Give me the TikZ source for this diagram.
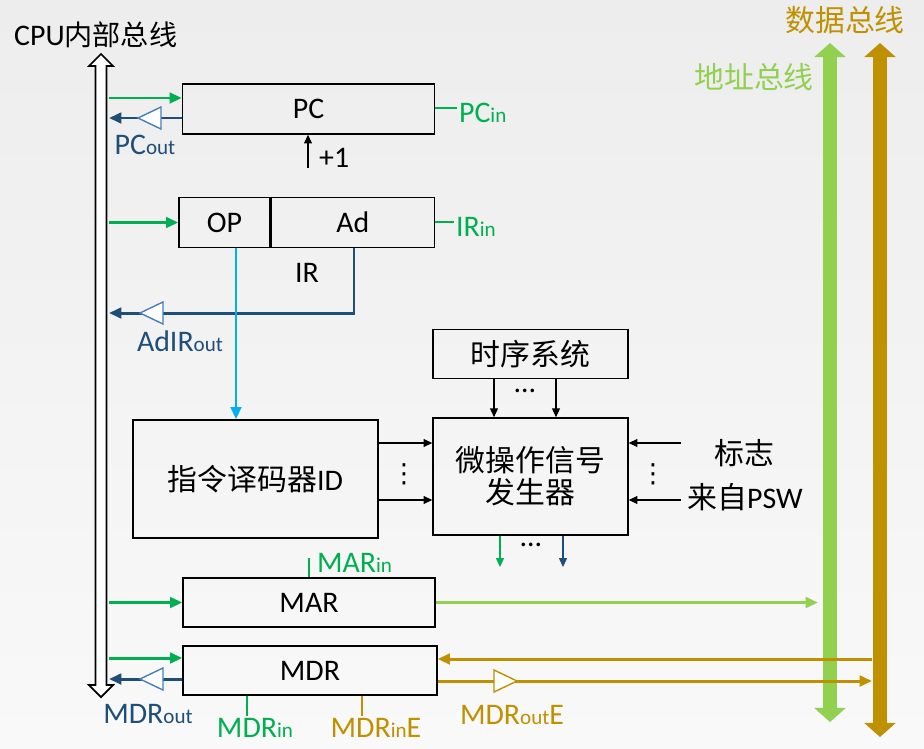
\documentclass[tikz,border=0pt]{standalone}
\usepackage{fontspec}
\setmainfont{Carlito}
\newfontfamily\cjk{Noto Sans CJK SC}
\newfontfamily\symf{DejaVu Sans}
\usetikzlibrary{positioning,arrows.meta,shapes.geometric}
\definecolor{sigin}{HTML}{00B050}
\definecolor{sigout}{HTML}{1F4E79}
\definecolor{bufline}{HTML}{4A7EBB}
\definecolor{addrbus}{HTML}{92D050}
\definecolor{databus}{HTML}{BF9000}
\definecolor{opline}{HTML}{00B0F0}
\definecolor{bgtop}{HTML}{EDEDED}
\definecolor{bgbot}{HTML}{F9F9F9}
\newcommand{\lbl}{\fontsize{17}{20}\selectfont}
\newcommand{\cjklbl}{\cjk\fontsize{17}{18}\selectfont}
\newcommand{\sfx}[1]{{\fontsize{12}{12}\selectfont #1}}
% hollow buffer triangle: tip x, y, colour, direction (+1 left, -1 right)
\newcommand{\buffer}[4]{\draw[buf, draw=#3] (#1,#2) -- ++(#4*23,-11) -- ++(0,22) -- cycle;}
\tikzset{
  reg/.style={draw, line width=0.8pt, inner sep=0pt, font=\lbl},
  sigarrow/.style={-{Triangle[length=7pt,width=6pt]}, line width=1.7pt},
  gin/.style={sigarrow, sigin},
  gout/.style={sigarrow, sigout},
  ctl/.style={line width=0.6pt},
  thinarrow/.style={-{Triangle[length=5pt,width=4.5pt]}, line width=0.6pt},
  buf/.style={fill=white, line width=0.8pt},
  busarrow/.style={line width=8.5pt, {Triangle[length=8pt,width=17.5pt]}-{Triangle[length=8pt,width=17.5pt]}},
  siglbl/.style={font=\lbl, inner sep=1pt},
  vdot/.style={font=\symf\fontsize{15}{15}\selectfont, inner sep=0pt},
}
\begin{document}
\begin{tikzpicture}[x=0.02cm, y=-0.02cm]
\useasboundingbox (0,0) rectangle (924,748);
\fill[top color=bgtop, bottom color=bgbot] (0,0) rectangle (924,748);

%Buses
\filldraw[fill=white, draw=black, line width=1pt] (101,54) -- (113,66) -- (106.5,66) -- (106.5,685) -- (113,685) -- (101,697) -- (89,685) -- (95.5,685) -- (95.5,66) -- (89,66) -- cycle;
\coordinate (cpubus) at (109,0);
\node[anchor=west, font=\lbl] (cpulbl) at (8,35) {CPU{\cjk\fontsize{16}{18}\selectfont 内部总线}};
\draw[busarrow, addrbus] (830,722) -- (830,43);
\draw[busarrow, databus] (880,737) -- (880,43);
\coordinate (abus) at (818,0);
\coordinate (dbus) at (872,0);
\node[font=\cjklbl, addrbus] (alabel) at (754,77) {地址总线};
\node[font=\cjklbl, databus] (dlabel) at (845,20) {数据总线};

%Nodes
\node[reg, minimum width=5.04cm, minimum height=1cm] (pc) at (308.5,109) {PC};
\node[reg, minimum width=1.82cm, minimum height=1cm] (op) at (224.5,222.5) {OP};
\node[reg, minimum width=3.26cm, minimum height=1cm, right=0pt of op] (ad) {Ad};
\node[font=\lbl] (ir) at (307,273) {IR};
\node[reg, font=\cjklbl, minimum width=4.9cm, minimum height=2.36cm] (id) at (255.5,479) {指令译码器{\rmfamily\fontsize{17}{18}\selectfont ID}};
\node[reg, font=\cjklbl, minimum width=3.9cm, minimum height=0.98cm] (seq) at (530.5,354) {时序系统};
\node[reg, font=\cjklbl, align=center, minimum width=3.9cm, minimum height=2.34cm, below=0.76cm of seq] (cu) {微操作信号\\发生器};
\node[reg, minimum width=5.04cm, minimum height=0.98cm] (mar) at (309,602.5) {MAR};
\node[reg, minimum width=5.08cm, minimum height=0.98cm] (mdr) at (310,670.5) {MDR};

%Labels
\node[siglbl, sigout] (pcout) at (145,145) {PC\sfx{out}};
\node[siglbl, sigin, anchor=west] (pcin) at (457,113) {PC\sfx{in}};
\node[font=\lbl, anchor=west] (plus) at (313,158) {+1};
\node[siglbl, sigin, anchor=west] (irin) at (454,227) {IR\sfx{in}};
\node[siglbl, sigout] (adirout) at (180,341) {AdIR\sfx{out}};
\node[siglbl, sigin, anchor=west] (marin) at (315,563) {MAR\sfx{in}};
\node[siglbl, sigout] (mdrout) at (148,714) {MDR\sfx{out}};
\node[siglbl, sigin] (mdrin) at (255,728) {MDR\sfx{in}};
\node[siglbl, databus] (mdrine) at (376,728) {MDR\sfx{in}E};
\node[siglbl, databus] (mdroute) at (512,715) {MDR\sfx{out}E};
\node[font=\cjklbl] (flag) at (744,453) {标志};
\node[font=\cjklbl] (psw) at (745,497) {来自{\rmfamily\lbl PSW}};
\node[font=\lbl] (dots1) at (525,391) {\ldots};
\node[font=\lbl] (dots2) at (531,545) {\ldots};
\node[vdot] (vd1) at (404,474) {⋮};
\node[vdot] (vd2) at (653,474) {⋮};

%Lines
\draw[gin] (cpubus |- 0,98) -- (pc.west |- 0,98);
\draw[gout] (pc.west |- 0,118) -- (cpubus |- 0,118);
\buffer{138}{118}{bufline}{1}
\coordinate (inc) at (308,168);
\draw[thinarrow] (inc) -- (pc.south -| inc);
\draw[ctl, sigin] (pc.east |- 0,108) -- (pcin.west |- 0,108);

\draw[gin] (cpubus |- op.west) -- (op.west);
\draw[ctl, sigin] (ad.east |- 0,222) -- (irin.west |- 0,222);
\draw[gout] (ad.south -| 354,0) |- (cpubus |- 0,313);
\buffer{140}{313}{bufline}{1}
\draw[sigarrow, opline] (op.south -| 236,0) -- (id.north -| 236,0);

\draw[thinarrow] (seq.south -| 494,0) -- (cu.north -| 494,0);
\draw[thinarrow] (seq.south -| 556,0) -- (cu.north -| 556,0);
\draw[thinarrow] (id.east |- 0,443) -- (cu.west |- 0,443);
\draw[thinarrow] (id.east |- 0,500) -- (cu.west |- 0,500);
\coordinate (fl1) at (681,443);
\coordinate (fl2) at (681,500);
\draw[thinarrow] (fl1) -- (cu.east |- fl1);
\draw[thinarrow] (fl2) -- (cu.east |- fl2);
\coordinate (o1) at (500,567);
\coordinate (o2) at (563,567);
\draw[thinarrow, sigin] (cu.south -| o1) -- (o1);
\draw[thinarrow, sigout] (cu.south -| o2) -- (o2);

\draw[gin] (cpubus |- mar.west) -- (mar.west);
\draw[ctl, sigin] (mar.north -| 309,0) -- ++(0,-19);
\draw[sigarrow, addrbus] (mar.east) -- (abus |- mar.east);

\draw[gin] (cpubus |- 0,658) -- (mdr.west |- 0,658);
\draw[gout] (mdr.west |- 0,679) -- (cpubus |- 0,679);
\buffer{140}{679}{bufline}{1}
\draw[ctl, sigin] (mdr.south -| 247,0) -- ++(0,20);
\draw[ctl, databus] (mdr.south -| 362,0) -- ++(0,20);
\draw[sigarrow, databus] (dbus |- 0,659) -- (mdr.east |- 0,659);
\draw[sigarrow, databus] (mdr.east |- 0,681) -- (dbus |- 0,681);
\buffer{517}{681}{databus}{-1}
\end{tikzpicture}
\end{document}
